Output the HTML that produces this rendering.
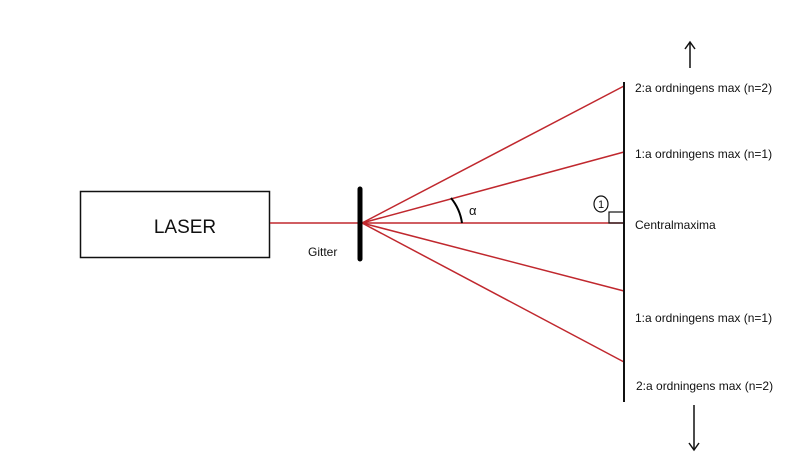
<!DOCTYPE html>
<html><head><style>html,body{margin:0;padding:0;background:#fff;}svg{display:block}</style></head>
<body>
<svg width="800" height="471" viewBox="0 0 800 471" xmlns="http://www.w3.org/2000/svg" font-family="Liberation Sans, sans-serif">
<rect x="80.5" y="191.5" width="189" height="66" fill="#fff" stroke="#111" stroke-width="1.5"/>
<text x="185" y="233" font-size="19" text-anchor="middle" fill="#111">LASER</text>
<g stroke="#c0282e" stroke-width="1.5">
<line x1="270" y1="223" x2="362" y2="223"/>
<line x1="362" y1="223" x2="624" y2="86"/>
<line x1="362" y1="223" x2="624" y2="152"/>
<line x1="362" y1="223" x2="624" y2="223"/>
<line x1="362" y1="223" x2="624" y2="291"/>
<line x1="362" y1="223" x2="624" y2="362"/>
</g>
<line x1="360" y1="189" x2="360" y2="259" stroke="#000" stroke-width="5" stroke-linecap="round"/>
<text x="308" y="256" font-size="12" fill="#111">Gitter</text>
<line x1="624" y1="82" x2="624" y2="402" stroke="#111" stroke-width="2"/>
<path d="M451 198 Q460 209 462 223" fill="none" stroke="#000" stroke-width="2"/>
<text x="469" y="215" font-size="13" fill="#111">α</text>
<rect x="609" y="212" width="15" height="11" fill="none" stroke="#111" stroke-width="1.2"/>
<ellipse cx="601" cy="204" rx="7" ry="8" fill="none" stroke="#111" stroke-width="1.2"/>
<text x="601" y="208" font-size="11" text-anchor="middle" fill="#111">1</text>
<g font-size="12" fill="#111">
<text x="635" y="92">2:a ordningens max (n=2)</text>
<text x="635" y="158">1:a ordningens max (n=1)</text>
<text x="635" y="229">Centralmaxima</text>
<text x="635" y="322">1:a ordningens max (n=1)</text>
<text x="636" y="390">2:a ordningens max (n=2)</text>
</g>
<g stroke="#111" stroke-width="1.5" fill="none">
<line x1="690" y1="43" x2="690" y2="68"/><path d="M685 49 L690 42 L695 49"/>
<line x1="694" y1="405" x2="694" y2="450"/><path d="M689 443 L694 450 L699 443"/>
</g>
</svg>
</body></html>
